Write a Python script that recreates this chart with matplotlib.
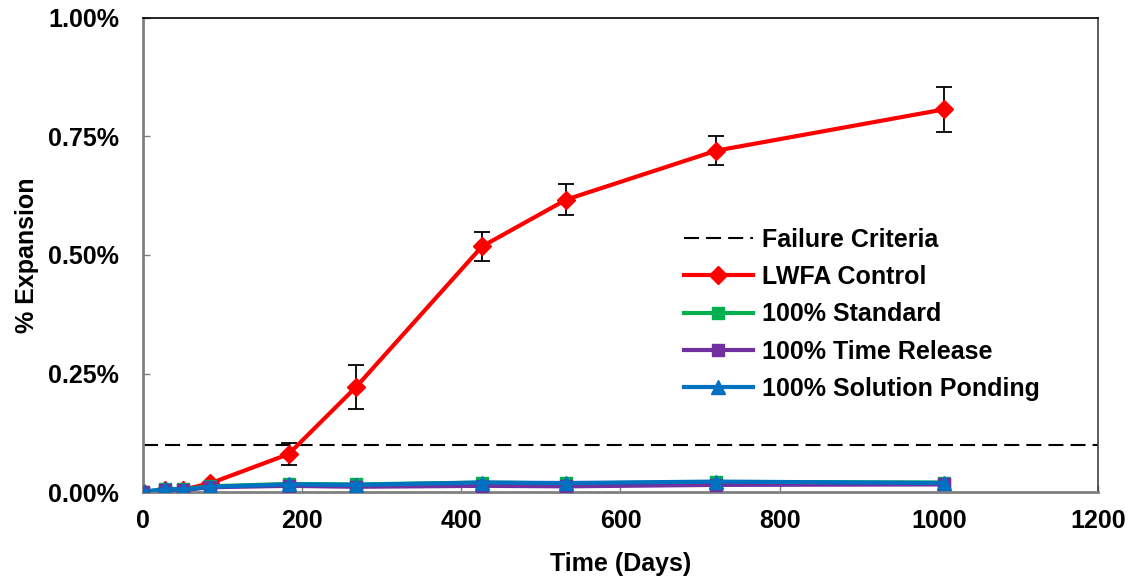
import matplotlib
matplotlib.use("Agg")
import matplotlib.pyplot as plt
from matplotlib.ticker import FuncFormatter

plt.rcParams['font.family'] = ['Liberation Sans', 'DejaVu Sans']
plt.rcParams['font.weight'] = 'bold'

# data (expansion in %)
days = [0, 28, 50, 84, 183, 268, 426, 532, 720, 1006]
lwfa = [0.0, 0.004, 0.005, 0.018, 0.080, 0.222, 0.518, 0.617, 0.720, 0.807]
lwfa_err = [0.0, 0.0, 0.0, 0.0, 0.023, 0.046, 0.031, 0.033, 0.030, 0.047]
standard = [0.0, 0.007, 0.006, 0.012, 0.017, 0.016, 0.020, 0.018, 0.021, 0.020]
time_release = [0.0, 0.004, 0.004, 0.010, 0.013, 0.011, 0.013, 0.012, 0.015, 0.016]
ponding = [0.0, 0.006, 0.005, 0.011, 0.016, 0.015, 0.020, 0.019, 0.022, 0.019]
failure = 0.10

fig = plt.figure(figsize=(11.33, 5.8), dpi=100)
ax = fig.add_axes([0.1262, 0.1517, 0.8429, 0.8173])

ax.axhline(failure, color='black', linestyle=(0, (7.2, 3.4)), linewidth=1.5,
           label='Failure Criteria', zorder=1)
# error bars drawn separately so the legend shows a plain line
ax.errorbar(days, lwfa, yerr=lwfa_err, fmt='none', ecolor='black',
            elinewidth=1.3, capsize=6, capthick=1.3, zorder=2)
ax.plot(days, lwfa, color='red', marker='D', markersize=9, linewidth=3,
        label='LWFA Control', zorder=2)
ax.plot(days, standard, color='#00b050', marker='s', markersize=9, linewidth=3,
        label='100% Standard', zorder=3)
ax.plot(days, time_release, color='#7030a0', marker='s', markersize=9, linewidth=3,
        label='100% Time Release', zorder=4)
ax.plot(days, ponding, color='#0070c0', marker='^', markersize=10, linewidth=3,
        label='100% Solution Ponding', zorder=5)

ax.set_xlim(0, 1200)
ax.set_ylim(0, 1.0)
ax.set_xticks(range(0, 1201, 200))
ax.set_yticks([0, 0.25, 0.5, 0.75, 1.0])
ax.yaxis.set_major_formatter(FuncFormatter(lambda v, p: f"{v:.2f}%"))
ax.tick_params(direction='in', length=5, width=1, color='#808080', labelsize=18)
ax.tick_params(axis='y', pad=17)
ax.tick_params(axis='x', pad=12)
for lab in ax.get_xticklabels() + ax.get_yticklabels():
    lab.set_fontweight('bold')

ax.spines['left'].set_color('#808080')
ax.spines['bottom'].set_color('#808080')
ax.spines['left'].set_linewidth(2)
ax.spines['bottom'].set_linewidth(2)
ax.spines['top'].set_color('black')
ax.spines['right'].set_color('#404040')
ax.spines['top'].set_linewidth(1.2)
ax.spines['right'].set_linewidth(1.2)

ax.set_xlabel('Time (Days)', fontsize=18, fontweight='bold', labelpad=14)
ax.set_ylabel('% Expansion', fontsize=18, fontweight='bold', labelpad=7)

leg = ax.legend(loc='upper left', bbox_to_anchor=(0.5665, 0.557),
                frameon=False, fontsize=18, handlelength=2.76, handletextpad=0.36,
                labelspacing=0.53, borderaxespad=0, borderpad=0)
for t in leg.get_texts():
    t.set_fontweight('bold')

fig.savefig('out.png', dpi=100)
